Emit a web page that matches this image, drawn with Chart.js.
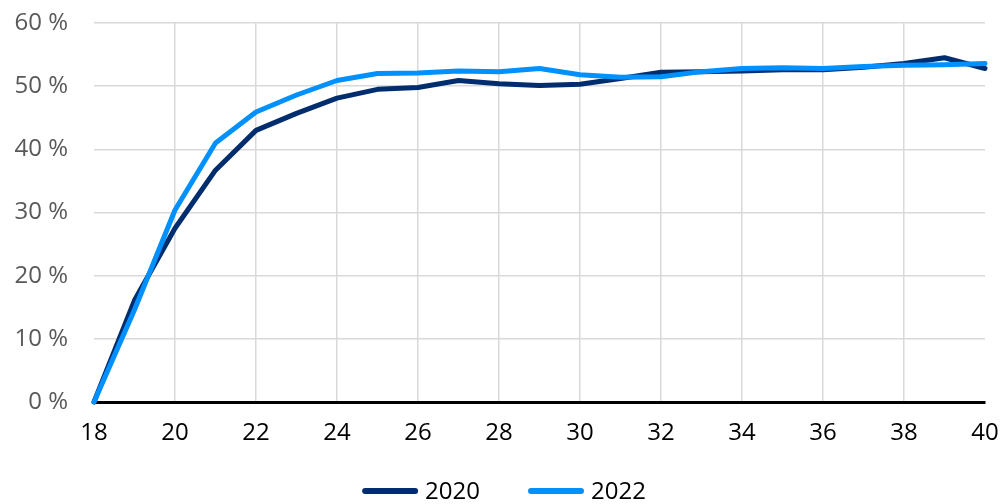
<!DOCTYPE html>
<html>
<head>
<meta charset="utf-8">
<script src="https://cdn.jsdelivr.net/npm/chart.js@4.4.1/dist/chart.umd.min.js"></script>
<style>
    html, body { margin: 0; padding: 0; background: #fff; }
    #wrap { width: 1002px; height: 504px; }
</style>
</head>
<body>
<div id="wrap"><canvas id="ageChart" width="1002" height="504"></canvas></div>
<script>

// ages on the x axis
const ages = [18, 19, 20, 21, 22, 23, 24, 25, 26, 27, 28, 29, 30, 31, 32, 33, 34, 35, 36, 37, 38, 39, 40];

// share in percent
const values2020 = [0, 16.1, 27.5, 36.7, 43.0, 45.7, 48.1, 49.5, 49.8, 50.9, 50.4, 50.1, 50.3, 51.2, 52.2, 52.3, 52.4, 52.6, 52.6, 53.0, 53.6, 54.5, 52.8];
const values2022 = [0, 14.6, 30.4, 41.0, 45.9, 48.6, 50.9, 52.0, 52.1, 52.4, 52.3, 52.8, 51.8, 51.4, 51.5, 52.3, 52.8, 52.9, 52.8, 53.1, 53.3, 53.4, 53.6];

const yTicks = [0, 10, 20, 30, 40, 50, 60];

const seriesNames = ["2020", "2022"];
const seriesColors = ["#002D6E", "#0091FF"];

const fontFamily = "Open Sans";

function toPoints(values) {
    return ages.map((age, i) => ({ x: age, y: values[i] }));
}

// simple legend under the chart: a short thick line, then the year
const bottomLegend = {
    id: "bottomLegend",
    afterDraw(chart) {
        const c = chart.ctx;
        const lineLen = 56;
        const gapText = 7;
        const gapItems = 48;
        const y = 491;

        c.save();
        c.font = "24px '" + fontFamily + "'";
        c.textBaseline = "middle";

        const items = chart.data.datasets.map(ds => ({
            label: ds.label,
            color: ds.borderColor,
            textW: c.measureText(ds.label).width
        }));

        let total = 0;
        items.forEach((it, i) => {
            total += lineLen + gapText + it.textW;
            if (i > 0) total += gapItems;
        });

        let x = chart.width / 2 - total / 2 + 3;
        items.forEach(it => {
            c.strokeStyle = it.color;
            c.lineWidth = 6;
            c.lineCap = "round";
            c.beginPath();
            c.moveTo(x + 3, y);
            c.lineTo(x + lineLen - 3, y);
            c.stroke();

            c.fillStyle = "#000";
            c.fillText(it.label, x + lineLen + gapText, y + 1);
            x += lineLen + gapText + it.textW + gapItems;
        });
        c.restore();
    }
};

const ctx = document.getElementById("ageChart").getContext("2d");

new Chart(ctx, {
    type: "line",
    data: {
        datasets: [
            {
                label: seriesNames[0],
                data: toPoints(values2020),
                borderColor: seriesColors[0],
                backgroundColor: seriesColors[0],
                borderWidth: 5,
                pointRadius: 0,
                tension: 0,
                borderCapStyle: "round",
                borderJoinStyle: "round",
                clip: false,
                order: 1
            },
            {
                label: seriesNames[1],
                data: toPoints(values2022),
                borderColor: seriesColors[1],
                backgroundColor: seriesColors[1],
                borderWidth: 5,
                pointRadius: 0,
                tension: 0,
                borderCapStyle: "round",
                borderJoinStyle: "round",
                clip: false,
                order: 0
            }
        ]
    },
    options: {
        responsive: false,
        animation: false,
        layout: {
            padding: 0
        },
        plugins: {
            tooltip: { enabled: false },
            legend: { display: false }
        },
        scales: {
            x: {
                type: "linear",
                min: 18,
                max: 40,
                afterFit: (axis) => {
                    axis.height = 102;
                    axis.paddingLeft = 0;
                    axis.paddingRight = 17;
                },
                ticks: {
                    stepSize: 2,
                    color: "#000",
                    padding: 17,
                    maxRotation: 0,
                    font: { family: fontFamily, size: 24 }
                },
                grid: {
                    drawTicks: false,
                    lineWidth: 1.5,
                    color: (c) => (c.tick && (c.tick.value === 18 || c.tick.value === 40)) ? "rgba(0,0,0,0)" : "#d9d9d9"
                },
                border: { display: true, color: "#000", width: 3 }
            },
            y: {
                min: 0,
                max: 60,
                afterFit: (axis) => {
                    axis.width = 94;
                    axis.paddingTop = 23;
                    axis.paddingBottom = 0;
                },
                afterBuildTicks: (axis) => {
                    axis.ticks = yTicks.map(v => ({ value: v }));
                },
                ticks: {
                    color: "#595959",
                    padding: 26,
                    font: { family: fontFamily, size: 24 },
                    callback: (v) => v + " %"
                },
                grid: {
                    drawTicks: false,
                    lineWidth: 1.5,
                    color: "#d9d9d9"
                },
                border: { display: false }
            }
        }
    },
    plugins: [bottomLegend]
});
</script>
</body>
</html>
